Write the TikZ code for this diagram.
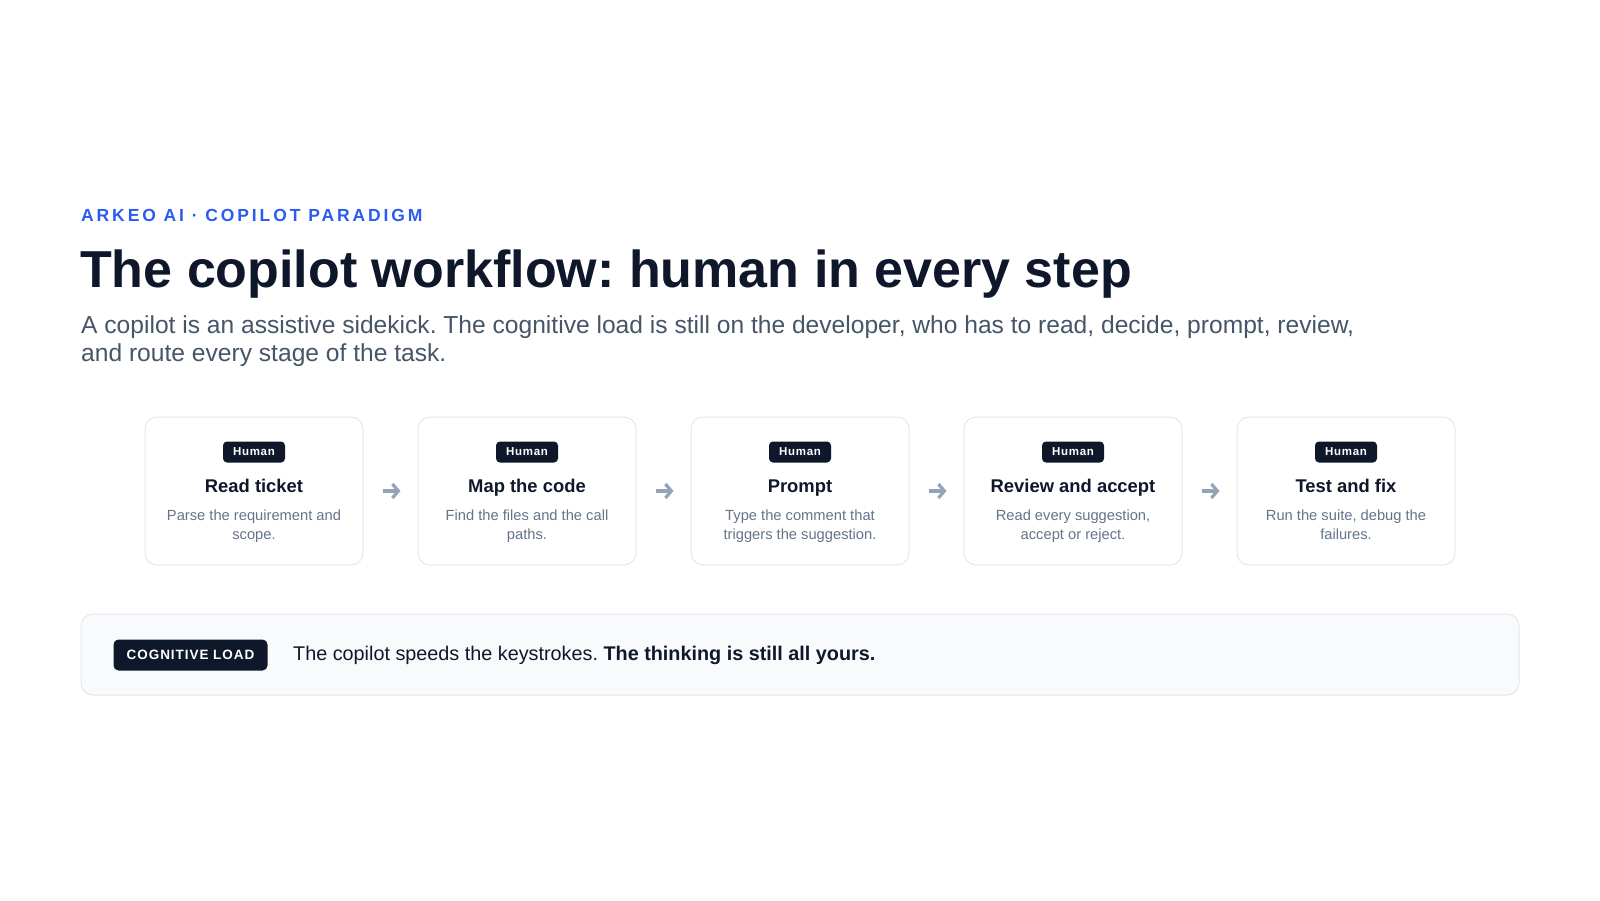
\documentclass[tikz,border=0pt]{standalone}
\usepackage{fontspec}
\setmainfont{Liberation Sans}
\usetikzlibrary{arrows.meta}
\definecolor{ink}{HTML}{0F172A}
\definecolor{eyeblue}{HTML}{2B5BF0}
\definecolor{subgray}{HTML}{475569}
\definecolor{descgray}{HTML}{64748B}
\definecolor{arrowgray}{HTML}{94A3B8}
\definecolor{bordergray}{HTML}{E2E8F0}
\definecolor{panelfill}{HTML}{F8FAFC}
\tikzset{
  card/.style={draw=bordergray, line width=1pt, fill=white, rounded corners=12pt,
    minimum width=218pt, minimum height=148pt, inner sep=0pt},
  badge/.style={fill=ink, text=white, rounded corners=4pt, minimum width=62pt,
    minimum height=21pt, inner sep=0pt,
    font=\fontsize{11.5}{13}\selectfont\bfseries\addfontfeatures{LetterSpace=6}},
  ctitle/.style={anchor=base, inner sep=0pt, text=ink,
    font=\fontsize{18.4}{22}\selectfont\bfseries},
  cdesc/.style={anchor=base, inner sep=0pt, text=descgray, align=center,
    font=\fontsize{14.7}{19.3}\selectfont},
  flowarrow/.style={draw=arrowgray, line width=3.2pt,
    -{Straight Barb[length=6pt, width=14pt, line width=3.2pt]}},
}
\begin{document}
\frenchspacing
\begin{tikzpicture}[x=1pt,y=-1pt]
\useasboundingbox (0,0) rectangle (1600,900);
\fill[white] (0,0) rectangle (1600,900);

\node[anchor=base west, inner sep=0pt, text=eyeblue] (eyebrow) at (81,221)
  {\fontsize{17.5}{20}\selectfont\bfseries\addfontfeatures{LetterSpace=16.5}ARKEO AI · COPILOT PARADIGM};
\node[anchor=base west, inner sep=0pt, text=ink] (title) at (80,287)
  {\fontsize{52}{60}\selectfont\bfseries The copilot workflow: human in every step};
\node[anchor=base west, inner sep=0pt, text=subgray] (sub1) at (81,333)
  {\fontsize{24.6}{28}\selectfont A copilot is an assistive sidekick. The cognitive load is still on the developer, who has to read, decide, prompt, review,};
\node[anchor=base west, inner sep=0pt, text=subgray] (sub2) at (81,361)
  {\fontsize{24.6}{28}\selectfont and route every stage of the task.};

% cards
\foreach \i/\cx/\ttl/\la/\lb in {
  1/254/{Read ticket}/{Parse the requirement and}/{scope.},
  2/527/{Map the code}/{Find the files and the call}/{paths.},
  3/800/{Prompt}/{Type the comment that}/{triggers the suggestion.},
  4/1073/{Review and accept}/{Read every suggestion,}/{accept or reject.},
  5/1346/{Test and fix}/{Run the suite, debug the}/{failures.}}{
  \node[card] (c\i) at (\cx,491) {};
  \node[badge] (b\i) at (\cx,452) {Human};
  \node[ctitle] (t\i) at (\cx,492) {\ttl};
  \node[cdesc] (da\i) at (\cx,520) {\la};
  \node[cdesc] (db\i) at (\cx,539) {\lb};
}
\foreach \a/\b in {1/2,2/3,3/4,4/5}{
  \draw[flowarrow] ([xshift=19pt]c\a.east) -- ([xshift=-17pt]c\b.west);
}

% bottom panel
\node[draw=bordergray, line width=1pt, fill=panelfill, rounded corners=12pt,
  minimum width=1438pt, minimum height=81pt, inner sep=0pt] (panel) at (800,654.5) {};
\node[fill=ink, text=white, rounded corners=5pt, minimum width=154pt, minimum height=31pt,
  inner sep=0pt, font=\fontsize{13.5}{15}\selectfont\bfseries\addfontfeatures{LetterSpace=7}]
  (cl) at (190.5,655) {COGNITIVE LOAD};
\node[anchor=base west, inner sep=0pt, text=ink] (msg) at (293,660)
  {\fontsize{19.8}{24}\selectfont The copilot speeds the keystrokes. \textbf{The thinking is still all yours.}};
\end{tikzpicture}
\end{document}
